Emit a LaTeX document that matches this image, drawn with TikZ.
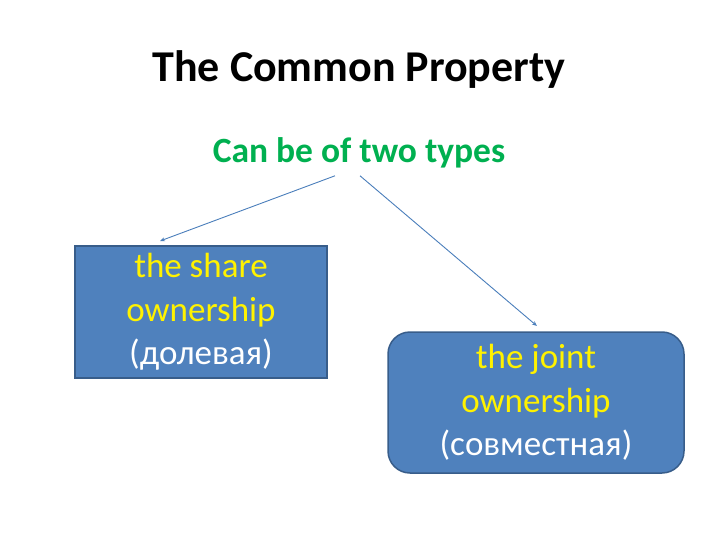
\documentclass[tikz,border=0pt]{standalone}
\usepackage{fontspec}
\setmainfont{Carlito}
\usepackage{tikz}
\usetikzlibrary{arrows.meta}

\definecolor{boxblue}{HTML}{4F81BD}
\definecolor{boxline}{HTML}{385D8A}
\definecolor{typegreen}{HTML}{00B050}
\definecolor{arrowblue}{HTML}{4A7EBB}

\tikzset{
 ownbox/.style={fill=boxblue,draw=boxline,line width=1.5pt,align=center,
  font=\fontsize{35}{43.5}\selectfont,inner sep=0pt},
 typearrow/.style={draw=arrowblue,line width=0.9pt,-{Stealth[length=5pt,width=4pt]}}
}

\begin{document}
\begin{tikzpicture}[x=1pt,y=-1pt]
\useasboundingbox (0,0) rectangle (720,540);
\node (title) at (359,70) [font=\fontsize{44}{50}\bfseries\selectfont]{The Common Property};
\node (types) at (359,153) [text=typegreen,font=\fontsize{35.5}{40}\bfseries\selectfont]{Can be of two types};
\node (share) at (201,312) [ownbox,rectangle,minimum width=252,minimum height=132]
 {\textcolor{yellow}{the share}\\ \textcolor{yellow}{ownership}\\ \textcolor{white}{(долевая)}};
\node (joint) at (536,402.5) [ownbox,rectangle,rounded corners=22pt,minimum width=296,minimum height=141]
 {\textcolor{yellow}{the joint}\\ \textcolor{yellow}{ownership}\\ \textcolor{white}{(совместная)}};
\coordinate (sharetip) at (160,241);
\coordinate (jointtip) at (537,326);
\draw [typearrow] ([xshift=-24pt,yshift=-4pt]types.south) -- (sharetip);
\draw [typearrow] ([xshift=1pt,yshift=-4pt]types.south) -- (jointtip);
\end{tikzpicture}
\end{document}
